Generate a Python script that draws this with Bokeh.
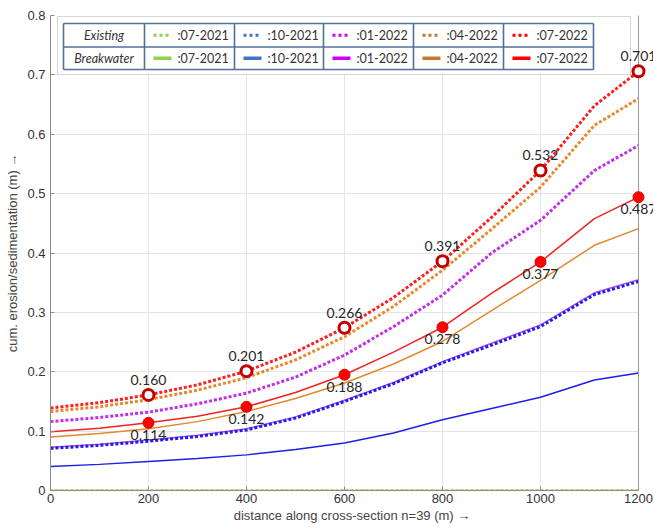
from bokeh.plotting import figure
from bokeh.models import ColumnDataSource, Label, FixedTicker, Range1d, BoxAnnotation, Span
from bokeh.core.properties import value
from bokeh.embed import file_html
from bokeh.resources import INLINE

# ---------------- data ----------------
distance = [0, 100, 200, 300, 400, 500, 600, 700, 800, 900, 1000, 1110, 1200]

exist_07_2021 = [0] * 13
exist_10_2021 = [0.071, 0.076, 0.083, 0.091, 0.102, 0.122, 0.150, 0.180, 0.215, 0.245, 0.276, 0.330, 0.352]
exist_01_2022 = [0.116, 0.123, 0.132, 0.146, 0.164, 0.191, 0.228, 0.276, 0.329, 0.400, 0.455, 0.539, 0.581]
exist_04_2022 = [0.133, 0.141, 0.153, 0.169, 0.190, 0.220, 0.259, 0.310, 0.371, 0.440, 0.511, 0.615, 0.660]
exist_07_2022 = [0.139, 0.148, 0.161, 0.178, 0.201, 0.233, 0.274, 0.325, 0.386, 0.460, 0.539, 0.648, 0.706]

break_07_2021 = [0] * 13
break_10_2021 = [0.0405, 0.044, 0.049, 0.054, 0.060, 0.069, 0.080, 0.097, 0.119, 0.138, 0.157, 0.186, 0.198]
break_01_2022 = [0.073, 0.078, 0.085, 0.093, 0.104, 0.124, 0.152, 0.182, 0.217, 0.248, 0.279, 0.333, 0.355]
break_04_2022 = [0.090, 0.096, 0.104, 0.116, 0.133, 0.155, 0.181, 0.213, 0.251, 0.303, 0.354, 0.413, 0.441]
break_07_2022 = [0.099, 0.105, 0.114, 0.125, 0.141, 0.165, 0.195, 0.233, 0.275, 0.332, 0.385, 0.458, 0.494]

marker_x = [200, 400, 600, 800, 1000, 1200]
exist_labels = ["0.160", "0.201", "0.266", "0.391", "0.532", "0.701"]
break_labels = ["0.114", "0.142", "0.188", "0.278", "0.377", "0.487"]

legend_dates = [":07-2021", ":10-2021", ":01-2022", ":04-2022", ":07-2022"]
row_names = ["Existing", "Breakwater"]
x_ticks = [0, 200, 400, 600, 800, 1000, 1200]
y_ticks = [0, 0.1, 0.2, 0.3, 0.4, 0.5, 0.6, 0.7, 0.8]

# ---------------- styles ----------------
C_GREEN = "#92D050"
C_BLUE = "#1E1EEB"
C_MAG_D = "#C22FE6"
C_MAG_S = "#B84DE8"
C_ORA_D = "#E58A2C"
C_ORA_S = "#E0892E"
C_RED_D = "#FF1E1E"
C_RED_S = "#F02424"
LEG_COLORS = ["#92D050", "#4472C4", "#CC00FF", "#C47A2C", "#FF0000"]
FONT = "Lato"
BORDER = "#9a9a9a"

XMAX, YMAX = 1200, 0.8
FW, FH = 588, 475          # pixel size of the 0..1200 x 0..0.8 plotting box
EXTRA = 15                 # room right of the box for the value labels
XEND = XMAX * (FW + EXTRA) / FW

p = figure(frame_width=FW + EXTRA, frame_height=FH, output_backend="svg", toolbar_location=None,
           x_range=Range1d(0, XEND), y_range=Range1d(0, YMAX),
           min_border_left=50, min_border_right=0, min_border_top=15, min_border_bottom=29)
p.background_fill_color = "white"
p.outline_line_color = None

for ax in (p.xaxis[0], p.yaxis[0]):
    ax.major_tick_in = 4
    ax.major_tick_out = 0
    ax.minor_tick_line_color = None
    ax.axis_line_color = "#8c8c8c"
    ax.major_tick_line_color = "#8c8c8c"
    ax.major_label_text_font = "Liberation Sans"
    ax.major_label_text_font_size = "13px"
    ax.major_label_text_color = "#333333"
    ax.axis_label_text_font = "Liberation Sans"
    ax.axis_label_text_font_size = "13px"
    ax.axis_label_text_font_style = "normal"
    ax.axis_label_text_color = "#444444"

p.xaxis.ticker = FixedTicker(ticks=x_ticks)
p.yaxis.ticker = FixedTicker(ticks=y_ticks)
p.xaxis.bounds = (0, XMAX)
p.yaxis.major_label_overrides = {0: "0"}
p.xaxis.axis_label = "distance along cross-section n=39 (m) \u2192"
p.yaxis.axis_label = "cum. erosion/sedimentation (m) \u2192"
p.xaxis.major_label_standoff = 3
p.yaxis.major_label_standoff = 5
p.xaxis.axis_label_standoff = 2
p.yaxis.axis_label_standoff = 4

p.grid.grid_line_color = "#e4e4e4"
p.grid.grid_line_width = 1

# ---------------- curves ----------------
DOT = "3 2"
p.line(distance, break_07_2021, color=C_GREEN, line_width=1.5)
p.line(distance, exist_07_2021, color=C_GREEN, line_width=2.5, line_dash=DOT)
p.line(distance, break_10_2021, color=C_BLUE, line_width=1.5)
p.line(distance, break_01_2022, color=C_MAG_S, line_width=1.5)
p.line(distance, exist_10_2021, color=C_BLUE, line_width=3, line_dash=DOT)
p.line(distance, break_04_2022, color=C_ORA_S, line_width=1.5)
p.line(distance, break_07_2022, color=C_RED_S, line_width=1.5)
p.line(distance, exist_01_2022, color=C_MAG_D, line_width=3, line_dash=DOT)
p.line(distance, exist_04_2022, color=C_ORA_D, line_width=3, line_dash=DOT)
p.line(distance, exist_07_2022, color=C_RED_D, line_width=3, line_dash=DOT)

# blank strip right of the box, then the box's right / top border
p.add_layout(BoxAnnotation(left=XMAX, fill_color="white", fill_alpha=1, line_color=None))
p.add_layout(Span(location=XMAX, dimension="height", line_color=BORDER, line_width=1))

# markers
idx = [distance.index(x) for x in marker_x]
ex_y = [exist_07_2022[i] for i in idx]
br_y = [break_07_2022[i] for i in idx]
ex_src = ColumnDataSource(dict(x=marker_x, y=ex_y))
br_src = ColumnDataSource(dict(x=marker_x, y=br_y))
p.scatter("x", "y", source=br_src, size=11, fill_color="#FF0000", line_color="#E00000",
          line_width=1, level="overlay")
p.scatter("x", "y", source=ex_src, size=11, fill_color="white", line_color="#C00000",
          line_width=3, level="overlay")

for xv, yv, t in zip(marker_x, ex_y, exist_labels):
    p.add_layout(Label(x=xv, y=yv, text=t, text_align="center", text_baseline="bottom",
                       y_offset=10, text_font=FONT, text_font_size="14px",
                       text_color="#262626"))
for xv, yv, t in zip(marker_x, br_y, break_labels):
    p.add_layout(Label(x=xv, y=yv, text=t, text_align="center", text_baseline="top",
                       y_offset=-7, text_font=FONT, text_font_size="14px",
                       text_color="#262626"))

# ---------------- table legend (pixel layout relative to the box) ----------------
def dx(px):
    return px * XMAX / FW

def dy(py):
    return YMAX - py * YMAX / FH

p.quad(left=[dx(7)], right=[dx(580)], top=[dy(1)], bottom=[dy(59)],
       fill_color="white", line_color="#d6d6d6", line_width=1)

col_px = [13, 94, 184, 273, 363, 453, 543]
row_px = [8, 31.5, 54]
p.quad(left=[dx(col_px[0])], right=[dx(col_px[-1])], top=[dy(row_px[0])], bottom=[dy(row_px[-1])],
       fill_color="white", line_color=None)
xs, ys = [], []
for c in col_px:
    xs.append([dx(c), dx(c)]); ys.append([dy(row_px[0]), dy(row_px[-1])])
for r in row_px:
    xs.append([dx(col_px[0]), dx(col_px[-1])]); ys.append([dy(r), dy(r)])
p.multi_line(xs, ys, line_color="#4F7299", line_width=1.6)

for ri, name in enumerate(row_names):
    ymid = (row_px[ri] + row_px[ri + 1]) / 2
    p.text([dx((col_px[0] + col_px[1]) / 2)], [dy(ymid)], text=[name], text_align="center",
           text_baseline="middle", text_font=value(FONT), text_font_size="12.5px",
           text_font_style="italic", text_color="#333333")
    for ci, lab in enumerate(legend_dates):
        left = col_px[ci + 1]
        if ri == 0:
            p.line([dx(left + 9), dx(left + 27)], [dy(ymid), dy(ymid)], color=LEG_COLORS[ci],
                   line_width=3, line_dash="3 3")
        else:
            p.line([dx(left + 9), dx(left + 27)], [dy(ymid), dy(ymid)], color=LEG_COLORS[ci],
                   line_width=3.5)
        p.text([dx(left + 33)], [dy(ymid)], text=[lab], text_align="left", text_baseline="middle",
               text_font=value(FONT), text_font_size="12.5px", text_color="#333333")

open("out.html", "w").write(file_html(p, INLINE))
